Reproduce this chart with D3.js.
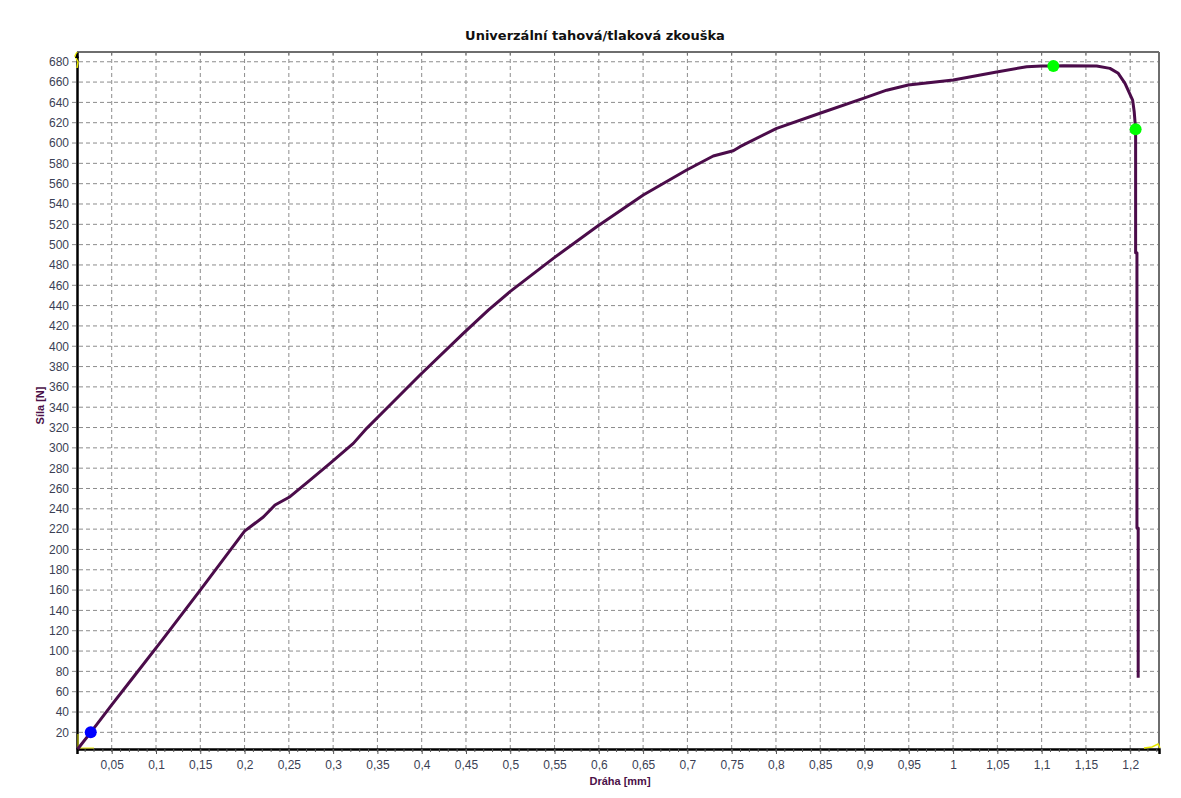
<!DOCTYPE html>
<html>
<head>
<meta charset="utf-8">
<script src="https://cdn.jsdelivr.net/npm/d3@7"></script>
<style>
  body { margin: 0; background: #fff; }
  svg { display: block; }
  .tick text { font-family: "Liberation Sans", Arial, sans-serif; font-size: 12px; fill: #3b3f55; }
</style>
</head>
<body>
<div id="chart"></div>
<script>
// dráha [mm] a síla [N]
const draha = [0.0116, 0.0263, 0.05, 0.075, 0.108, 0.15, 0.2, 0.2212, 0.2344, 0.2513, 0.2739, 0.2965,
  0.3228, 0.3379, 0.3623, 0.3981, 0.447, 0.4752, 0.4997, 0.5486, 0.5976, 0.6502, 0.6992, 0.7292,
  0.7518, 0.7594, 0.8008, 0.8497, 0.8986, 0.925, 0.9494, 1.0002, 1.0492, 1.0831, 1.1, 1.1132,
  1.1245, 1.1621, 1.1771, 1.1865, 1.1941, 1.2027, 1.2045, 1.2061, 1.2061, 1.2076, 1.2076, 1.209, 1.209];
const sila = [3.6, 20, 47, 75, 112, 160, 218, 232, 243.7, 251.9, 268.3, 284.8,
  304.4, 319.2, 340.5, 371.7, 412.7, 435.6, 453.7, 486.5, 517.6, 548.8, 573.5, 587.2,
  592.4, 596.4, 614.5, 629.3, 644, 652, 657.1, 662, 670, 675.1, 675.8, 675.8,
  676.1, 675.8, 673.5, 668.6, 658.8, 642.3, 630.8, 613.5, 492, 492, 221, 221, 73.7];
const body = [
  { x: 0.0263, y: 20, color: "#0000ff" },
  { x: 1.1132, y: 675.8, color: "#00ff00" },
  { x: 1.2061, y: 613.5, color: "#00ff00" }
];
const xTicks = d3.range(1, 25).map(i => i * 0.05);
const yTicks = d3.range(1, 35).map(i => i * 20);
const xMinor = d3.range(2, 124).map(i => i * 0.01);

const W = 1181, H = 798;
const pLeft = 77, pRight = 1159, pTop = 52, pBottom = 749;

const svg = d3.select("#chart").append("svg")
  .attr("width", W).attr("height", H);

const x = d3.scaleLinear().domain([0.0108, 1.2325]).range([pLeft, pRight]);
const y = d3.scaleLinear().domain([3.6, 689.6]).range([pBottom, pTop]);

const fmt = v => d3.format(".2~f")(v).replace(".", ",");

// mřížka
svg.append("g")
  .selectAll("line").data(xTicks).join("line")
  .attr("x1", d => x(d)).attr("x2", d => x(d))
  .attr("y1", pTop).attr("y2", pBottom)
  .attr("stroke", "#8c8c8c").attr("stroke-dasharray", "4,3");
svg.append("g")
  .selectAll("line").data(yTicks).join("line")
  .attr("x1", pLeft - 5).attr("x2", pRight)
  .attr("y1", d => y(d)).attr("y2", d => y(d))
  .attr("stroke", "#8c8c8c").attr("stroke-dasharray", "4,3");

// rámeček nahoře a vpravo
svg.append("line").attr("x1", pLeft).attr("x2", pRight).attr("y1", pTop).attr("y2", pTop)
  .attr("stroke", "#6e6e6e").attr("stroke-width", 2);
svg.append("line").attr("x1", pRight).attr("x2", pRight).attr("y1", pTop).attr("y2", pBottom)
  .attr("stroke", "#6e6e6e").attr("stroke-width", 2);
svg.append("g").selectAll("line").data(xTicks).join("line")
  .attr("x1", d => x(d)).attr("x2", d => x(d)).attr("y1", pTop).attr("y2", pTop + 3)
  .attr("stroke", "#6e6e6e");

// osa x
const xAxis = svg.append("g")
  .attr("transform", `translate(0,${pBottom})`)
  .call(d3.axisBottom(x).tickValues(xTicks).tickFormat(fmt).tickSize(5).tickPadding(6));
xAxis.select(".domain").attr("stroke", "#000").attr("stroke-width", 2.5);
xAxis.selectAll(".tick line").attr("stroke", "#555");
svg.append("g").selectAll("line").data(xMinor).join("line")
  .attr("x1", d => x(d)).attr("x2", d => x(d))
  .attr("y1", pBottom).attr("y2", pBottom + 3)
  .attr("stroke", "#555");

// osa y
const yAxis = svg.append("g")
  .attr("transform", `translate(${pLeft},0)`)
  .call(d3.axisLeft(y).tickValues(yTicks).tickSize(0).tickPadding(8));
yAxis.select(".domain").attr("stroke", "#000").attr("stroke-width", 2.5);

// šipky na koncích os
svg.append("path")
  .attr("d", `M${pLeft},${pTop} l-2,4 l3,6 l-1,6`)
  .attr("fill", "none").attr("stroke", "#e8e800").attr("stroke-width", 1.5);
svg.append("path")
  .attr("d", `M${pLeft},${pTop + 1} l-2,5 l4,0 z`).attr("fill", "#000");
svg.append("path")
  .attr("d", `M${pRight - 15},${pBottom - 1} l8,-1 l6,-3 l2,4`)
  .attr("fill", "none").attr("stroke", "#e8e800").attr("stroke-width", 1.5);
svg.append("path")
  .attr("d", `M${pLeft + 1},${pBottom - 1} l0,-14 M${pLeft + 1},${pBottom - 1} l16,0`)
  .attr("fill", "none").attr("stroke", "#e8e800").attr("stroke-width", 1);

// křivka
const line = d3.line().x(d => x(d[0])).y(d => y(d[1]));
svg.append("path")
  .datum(d3.zip(draha, sila))
  .attr("d", line)
  .attr("fill", "none")
  .attr("stroke", "#4b0c4a")
  .attr("stroke-width", 3)
  .attr("stroke-linejoin", "round");

svg.append("g").selectAll("circle").data(body).join("circle")
  .attr("cx", d => x(d.x)).attr("cy", d => y(d.y))
  .attr("r", 6).attr("fill", d => d.color);

// titulky
svg.append("text")
  .attr("x", 595).attr("y", 40)
  .attr("text-anchor", "middle")
  .attr("font-family", "DejaVu Sans, Verdana, sans-serif")
  .attr("font-size", 13).attr("font-weight", "bold")
  .attr("fill", "#111")
  .text("Univerzální tahová/tlaková zkouška");

svg.append("text")
  .attr("x", 620).attr("y", 785)
  .attr("text-anchor", "middle")
  .attr("font-family", "Liberation Sans, Arial, sans-serif")
  .attr("font-size", 11).attr("font-weight", "bold")
  .attr("fill", "#4b1048")
  .text("Dráha [mm]");

svg.append("text")
  .attr("transform", `translate(44,${(pTop + pBottom) / 2 + 5}) rotate(-90)`)
  .attr("text-anchor", "middle")
  .attr("font-family", "Liberation Sans, Arial, sans-serif")
  .attr("font-size", 11).attr("font-weight", "bold")
  .attr("fill", "#4b1048")
  .text("Síla [N]");
</script>
</body>
</html>
